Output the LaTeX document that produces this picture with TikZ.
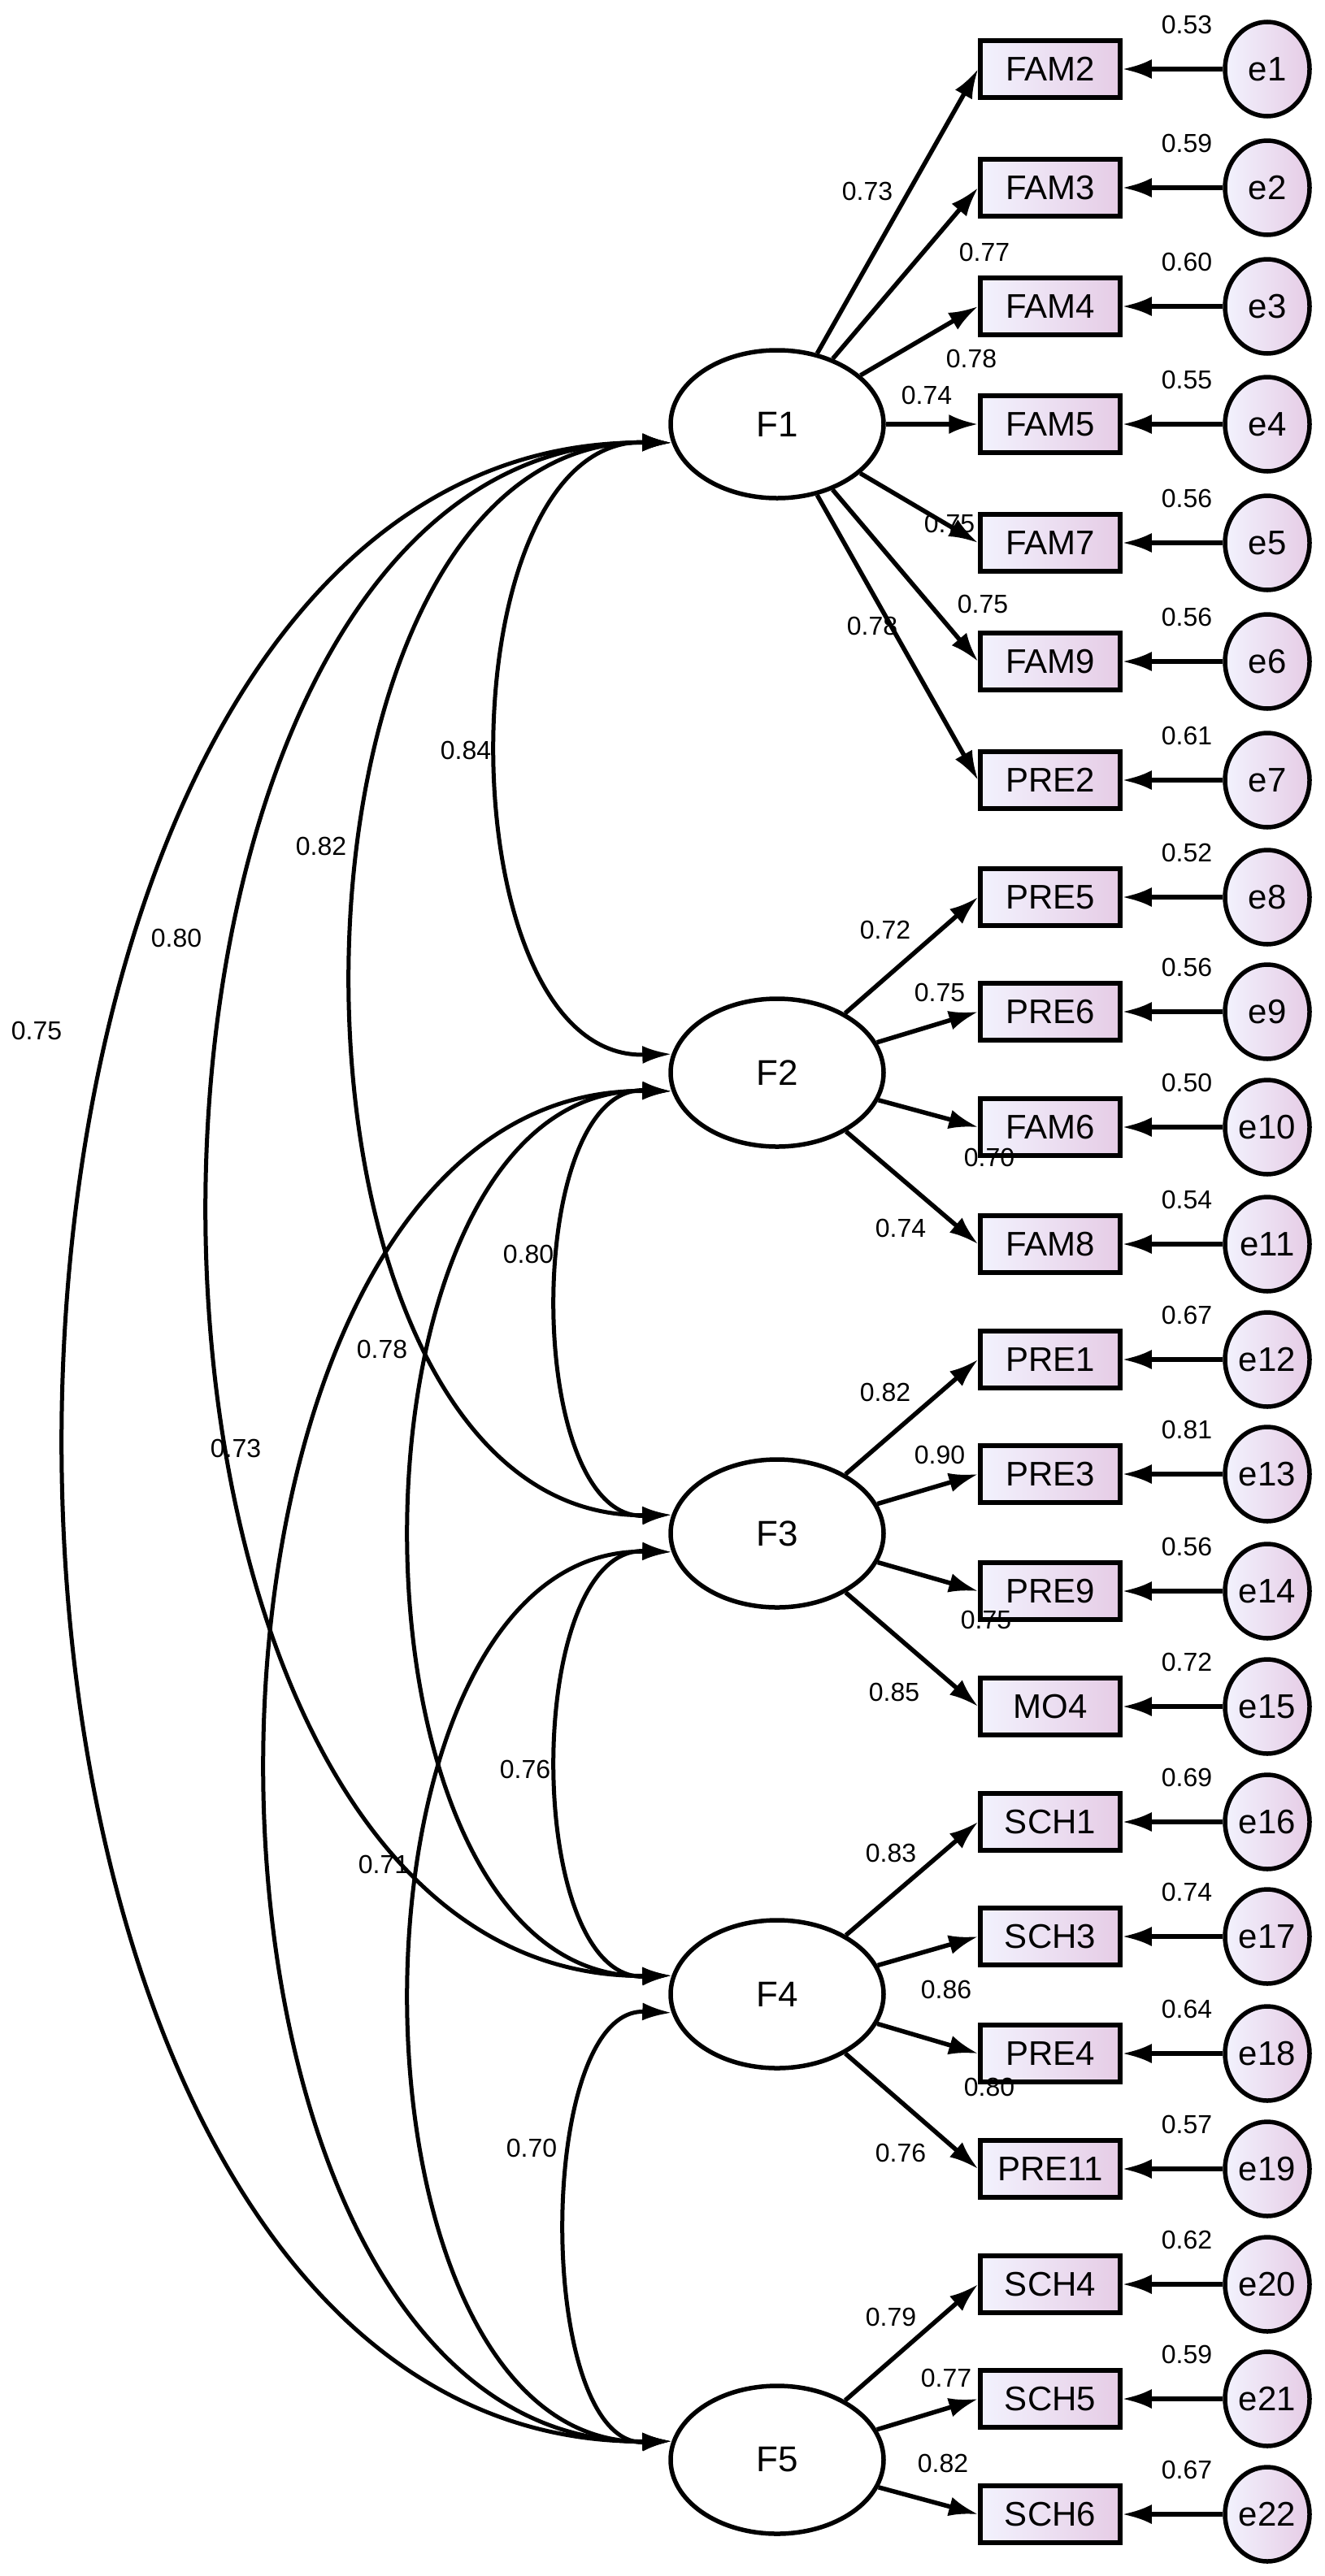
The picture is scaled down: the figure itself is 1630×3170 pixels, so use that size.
\documentclass[tikz,border=0pt]{standalone}
\usepackage{fontspec}
\setmainfont{Liberation Sans}
\usetikzlibrary{arrows.meta,shapes.geometric}
\begin{document}
\begin{tikzpicture}[x=1pt,y=-1pt,
  lat/.style={draw,line width=5.5pt,ellipse,minimum width=262pt,minimum height=182pt,inner sep=0pt,font=\fontsize{44}{46}\selectfont},
  obs/.style={draw,line width=5.5pt,minimum width=172pt,minimum height=70pt,inner sep=0pt,left color=black!12!blue!5,right color=violet!20,font=\fontsize{42}{44}\selectfont},
  err/.style={draw,line width=5.5pt,ellipse,minimum width=104pt,minimum height=116pt,inner sep=0pt,left color=black!12!blue!5,right color=violet!20,font=\fontsize{42}{44}\selectfont},
  arr/.style={line width=5.5pt,-{Latex[length=36pt,width=24pt]}},
  cov/.style={line width=5pt,{Latex[length=36pt,width=22pt]}-{Latex[length=36pt,width=22pt]}},
  lab/.style={font=\fontsize{32}{34}\selectfont}]
\useasboundingbox (0,0) rectangle (1630,3170);
\node[lat] (F1) at (956,522) {F1};
\node[lat] (F2) at (956,1320) {F2};
\node[lat] (F3) at (956,1887) {F3};
\node[lat] (F4) at (956,2454) {F4};
\node[lat] (F5) at (956,3027) {F5};
\foreach \i/\y/\t/\f/\v in {1/85/FAM2/F1/0.53,2/231/FAM3/F1/0.59,3/377/FAM4/F1/0.60,4/522/FAM5/F1/0.55,5/668/FAM7/F1/0.56,6/814/FAM9/F1/0.56,7/960/PRE2/F1/0.61,8/1104/PRE5/F2/0.52,9/1245/PRE6/F2/0.56,10/1387/FAM6/F2/0.50,11/1531/FAM8/F2/0.54,12/1673/PRE1/F3/0.67,13/1814/PRE3/F3/0.81,14/1958/PRE9/F3/0.56,15/2100/MO4/F3/0.72,16/2242/SCH1/F4/0.69,17/2383/SCH3/F4/0.74,18/2527/PRE4/F4/0.64,19/2669/PRE11/F4/0.57,20/2811/SCH4/F5/0.62,21/2952/SCH5/F5/0.59,22/3094/SCH6/F5/0.67}{
  \node[obs] (b\i) at (1292,\y) {\t};
  \node[err] (e\i) at (1559,\y) {e\i};
  \draw[arr] (e\i) -- (b\i);
  \draw[arr] (\f) -- (b\i.west);
  \node[lab] (v\i) at (1460,\y-55) {\v};
}
% loading labels
\foreach \x/\y/\t [count=\k] in {1067/235/0.73,1211/310/0.77,1195/441/0.78,1140/486/0.74,1168/644/0.75,1209/743/0.75,1073/770/0.78,
 1089/1144/0.72,1156/1221/0.75,1217/1424/0.70,1108/1511/0.74,
 1089/1713/0.82,1156/1790/0.90,1213/1993/0.75,1100/2082/0.85,
 1096/2280/0.83,1164/2448/0.86,1217/2568/0.80,1108/2649/0.76,
 1096/2851/0.79,1164/2926/0.77,1160/3031/0.82}{
  \node[lab] (l\k) at (\x,\y) {\t};
}
% covariances
\foreach \a/\b/\ya/\yb/\L/\lx/\ly/\t [count=\k] in {1/2/522/1320/616/573/923/0.84,1/3/522/1887/438/395/1041/0.82,1/4/522/2454/262/217/1154/0.80,1/5/522/3027/85/45/1268/0.75,
 2/3/1320/1887/690/650/1543/0.80,2/4/1320/2454/510/470/1660/0.78,2/5/1320/3027/333/290/1782/0.73,
 3/4/1887/2454/690/646/2177/0.76,3/5/1887/3027/510/472/2294/0.71,4/5/2454/3027/701/654/2643/0.70}{
  \pgfmathsetmacro{\c}{(8*\L-1660)/6}
  \draw[cov] (F\a.190) .. controls (\c,\ya+16) and (\c,\yb-16) .. (F\b.170);
  \node[lab] (c\k) at (\lx,\ly) {\t};
}
\end{tikzpicture}
\end{document}
